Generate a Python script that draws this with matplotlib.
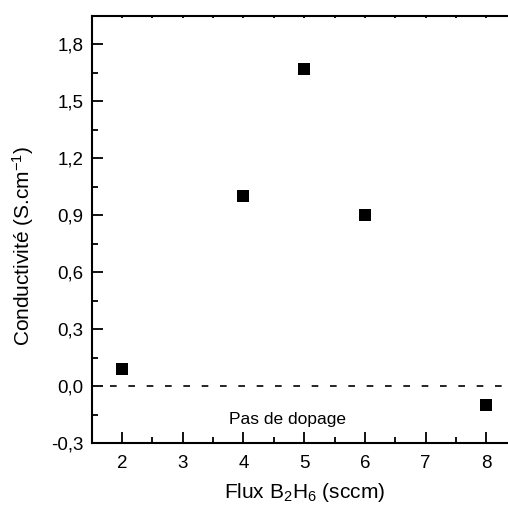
import matplotlib
matplotlib.use("Agg")
import matplotlib.pyplot as plt
from matplotlib.ticker import MultipleLocator, FuncFormatter

plt.rcParams['font.family'] = ['Liberation Sans', 'DejaVu Sans']
plt.rcParams['mathtext.fontset'] = 'custom'
plt.rcParams['mathtext.rm'] = 'Liberation Sans'
plt.rcParams['mathtext.it'] = 'Liberation Sans'
plt.rcParams['mathtext.default'] = 'regular'

flux = [2, 4, 5, 6, 8]
conductivity = [0.09, 1.0, 1.67, 0.9, -0.1]
x_label = "Flux B$_2$H$_6$ (sccm)"
y_label = "Conductivité (S.cm$^{-1}$)"
note = "Pas de dopage"

W, H = 508, 511
fig = plt.figure(figsize=(W / 100, H / 100), dpi=100)
left, right, top, bottom = 91.7, 516.6, 15.7, 443.3
ax = fig.add_axes([left / W, 1 - bottom / H, (right - left) / W, (bottom - top) / H])

ax.plot(flux, conductivity, linestyle='none', marker='s', markersize=8.6,
        color='black', markeredgewidth=0)
ax.plot([1.8, 8.6], [0, 0], color='black', linewidth=1.2, linestyle=(0, (4, 7)))
ax.text(4.73, -0.2, note, fontsize=12.5, ha='center', va='baseline')

ax.set_xlim(1.5, 8.5)
ax.set_ylim(-0.3, 1.95)
ax.xaxis.set_major_locator(MultipleLocator(1))
ax.xaxis.set_minor_locator(MultipleLocator(0.5))
ax.yaxis.set_major_locator(MultipleLocator(0.3))
ax.yaxis.set_minor_locator(MultipleLocator(0.15))
ax.xaxis.set_major_formatter(FuncFormatter(lambda v, p: f"{v:.0f}"))
ax.yaxis.set_major_formatter(FuncFormatter(lambda v, p: f"{v:.1f}".replace('.', ',').replace('-0,0', '0,0')))

ax.tick_params(axis='both', which='major', direction='in', length=8, width=1.3, labelsize=13.5)
ax.tick_params(axis='both', which='minor', direction='in', length=4, width=1.3)
ax.tick_params(axis='x', which='both', top=True, labeltop=False, pad=8.5)
ax.tick_params(axis='y', which='major', pad=6)
for t in ax.xaxis.get_major_ticks() + ax.xaxis.get_minor_ticks():
    t.tick2line.set_markersize(1.5)

for s in ax.spines.values():
    s.set_linewidth(1.5)

ax.set_xlabel(x_label, fontsize=15)
ax.set_ylabel(y_label, fontsize=15)
ax.xaxis.set_label_coords(0.5, (1 - (498 - top) / (bottom - top)), transform=ax.transAxes)
ax.xaxis.label.set_va('baseline')
ax.yaxis.set_label_coords((23 - left) / (right - left), (bottom - 246) / (bottom - top))
ax.yaxis.label.set_va('center')

fig.savefig("out.png", dpi=100)
